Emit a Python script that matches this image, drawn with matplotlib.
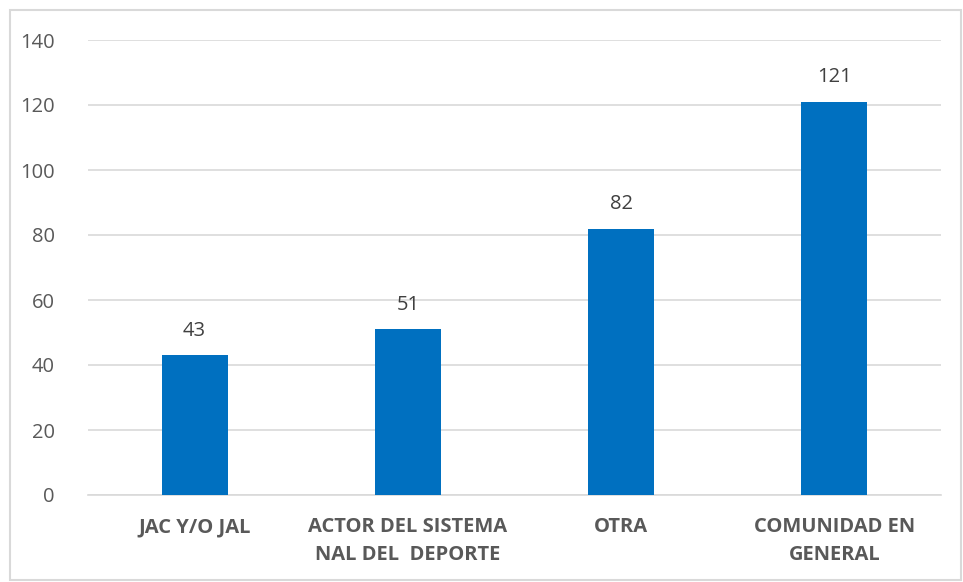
import matplotlib
matplotlib.use("Agg")
import matplotlib.pyplot as plt
from matplotlib.patches import Rectangle

categories = ["JAC Y/O JAL", "ACTOR DEL SISTEMA\nNAL DEL  DEPORTE", "OTRA", "COMUNIDAD EN\nGENERAL"]
values = [43, 51, 82, 121]
yticks = [0, 20, 40, 60, 80, 100, 120, 140]

plt.rcParams['font.family'] = ['Open Sans', 'DejaVu Sans']
txt = '#595959'
grid = '#D9D9D9'

fig = plt.figure(figsize=(9.63, 5.82), dpi=100)
fig.patches.append(Rectangle((10/963, 2/582), 951/963, 570/582, transform=fig.transFigure,
                             fill=False, edgecolor=grid, linewidth=1.5))
ax = fig.add_axes([88/963, 1-495/582, (941-88)/963, (495-40)/582])
x = range(len(categories))
bars = ax.bar(x, values, width=0.31, color='#0070C0', zorder=3)
for xi, v in zip(x, values):
    ax.text(xi, v + 4.5, str(v), ha='center', va='bottom', fontsize=14.5, color='#404040')
ax.set_xlim(-0.5, 3.5)
ax.set_ylim(0, 140)
ax.set_yticks(yticks)
ax.set_yticklabels([str(t) for t in yticks], fontsize=14.5, color=txt)
ax.set_xticks(list(x))
ax.set_xticklabels(categories, fontsize=14.5, fontweight='bold', color=txt, linespacing=1.55, va='top')
ax.tick_params(axis='y', length=0, pad=24)
ax.tick_params(axis='x', length=0, pad=16)
ax.yaxis.grid(True, color=grid, linewidth=1.2, zorder=0)
for s in ['top', 'right', 'left']:
    ax.spines[s].set_visible(False)
ax.spines['bottom'].set_color(grid)
ax.spines['bottom'].set_linewidth(1.2)
fig.savefig('out.png', dpi=100)
